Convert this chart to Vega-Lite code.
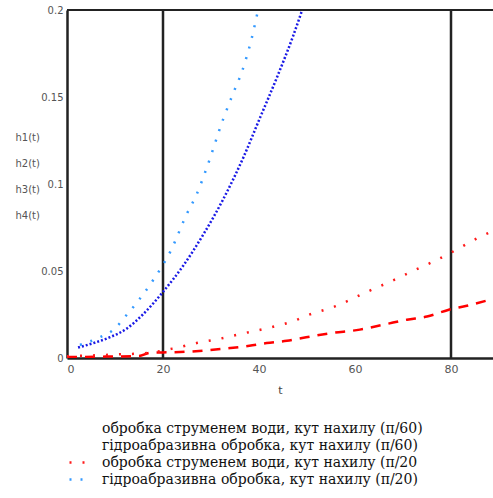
{
  "$schema": "https://vega.github.io/schema/vega-lite/v6.json",
  "autosize": {"type": "none"},
  "width": 426,
  "height": 348,
  "padding": {"left": 67, "top": 10, "right": 0, "bottom": 140},
  "background": "white",
  "config": {"view": {"stroke": null}},
  "datasets": {
    "curves": [
      {"s": "обробка струменем води, кут нахилу (π/60)", "t": 0, "h": 0.0005},
      {"s": "обробка струменем води, кут нахилу (π/60)", "t": 8, "h": 0.0008},
      {"s": "обробка струменем води, кут нахилу (π/60)", "t": 15, "h": 0.0012},
      {"s": "обробка струменем води, кут нахилу (π/60)", "t": 17.3, "h": 0.003},
      {"s": "обробка струменем води, кут нахилу (π/60)", "t": 20, "h": 0.0032},
      {"s": "обробка струменем води, кут нахилу (π/60)", "t": 25, "h": 0.0036},
      {"s": "обробка струменем води, кут нахилу (π/60)", "t": 29.8, "h": 0.0046},
      {"s": "обробка струменем води, кут нахилу (π/60)", "t": 34, "h": 0.0057},
      {"s": "обробка струменем води, кут нахилу (π/60)", "t": 38, "h": 0.007},
      {"s": "обробка струменем води, кут нахилу (π/60)", "t": 41.6, "h": 0.0086},
      {"s": "обробка струменем води, кут нахилу (π/60)", "t": 45.8, "h": 0.0099},
      {"s": "обробка струменем води, кут нахилу (π/60)", "t": 49, "h": 0.0115},
      {"s": "обробка струменем води, кут нахилу (π/60)", "t": 54.8, "h": 0.0142},
      {"s": "обробка струменем води, кут нахилу (π/60)", "t": 61, "h": 0.0163},
      {"s": "обробка струменем води, кут нахилу (π/60)", "t": 66.5, "h": 0.0195},
      {"s": "обробка струменем води, кут нахилу (π/60)", "t": 70.8, "h": 0.022},
      {"s": "обробка струменем води, кут нахилу (π/60)", "t": 75, "h": 0.0238},
      {"s": "обробка струменем води, кут нахилу (π/60)", "t": 79.4, "h": 0.0276},
      {"s": "обробка струменем води, кут нахилу (π/60)", "t": 83.3, "h": 0.0300},
      {"s": "обробка струменем води, кут нахилу (π/60)", "t": 88.75, "h": 0.034},

      {"s": "гідроабразивна обробка, кут нахилу (π/60)", "t": 2.3, "h": 0.006},
      {"s": "гідроабразивна обробка, кут нахилу (π/60)", "t": 6, "h": 0.009},
      {"s": "гідроабразивна обробка, кут нахилу (π/60)", "t": 9, "h": 0.012},
      {"s": "гідроабразивна обробка, кут нахилу (π/60)", "t": 12.5, "h": 0.017},
      {"s": "гідроабразивна обробка, кут нахилу (π/60)", "t": 15.8, "h": 0.025},
      {"s": "гідроабразивна обробка, кут нахилу (π/60)", "t": 20, "h": 0.038},
      {"s": "гідроабразивна обробка, кут нахилу (π/60)", "t": 24.2, "h": 0.053},
      {"s": "гідроабразивна обробка, кут нахилу (π/60)", "t": 28.4, "h": 0.071},
      {"s": "гідроабразивна обробка, кут нахилу (π/60)", "t": 32.5, "h": 0.091},
      {"s": "гідроабразивна обробка, кут нахилу (π/60)", "t": 36.7, "h": 0.115},
      {"s": "гідроабразивна обробка, кут нахилу (π/60)", "t": 40.2, "h": 0.138},
      {"s": "гідроабразивна обробка, кут нахилу (π/60)", "t": 43.7, "h": 0.161},
      {"s": "гідроабразивна обробка, кут нахилу (π/60)", "t": 47.1, "h": 0.185},
      {"s": "гідроабразивна обробка, кут нахилу (π/60)", "t": 49, "h": 0.2},

      {"s": "обробка струменем води, кут нахилу (π/20", "t": 0, "h": 0.001},
      {"s": "обробка струменем води, кут нахилу (π/20", "t": 10, "h": 0.002},
      {"s": "обробка струменем води, кут нахилу (π/20", "t": 17, "h": 0.003},
      {"s": "обробка струменем води, кут нахилу (π/20", "t": 22.5, "h": 0.0057},
      {"s": "обробка струменем води, кут нахилу (π/20", "t": 27, "h": 0.0086},
      {"s": "обробка струменем води, кут нахилу (π/20", "t": 30.8, "h": 0.0105},
      {"s": "обробка струменем води, кут нахилу (π/20", "t": 36.5, "h": 0.014},
      {"s": "обробка струменем води, кут нахилу (π/20", "t": 42.3, "h": 0.0175},
      {"s": "обробка струменем води, кут нахилу (π/20", "t": 47.9, "h": 0.022},
      {"s": "обробка струменем води, кут нахилу (π/20", "t": 49.6, "h": 0.024},
      {"s": "обробка струменем води, кут нахилу (π/20", "t": 56.2, "h": 0.030},
      {"s": "обробка струменем води, кут нахилу (π/20", "t": 61.7, "h": 0.037},
      {"s": "обробка струменем води, кут нахилу (π/20", "t": 69, "h": 0.046},
      {"s": "обробка струменем води, кут нахилу (π/20", "t": 72, "h": 0.050},
      {"s": "обробка струменем води, кут нахилу (π/20", "t": 76, "h": 0.055},
      {"s": "обробка струменем води, кут нахилу (π/20", "t": 81, "h": 0.062},
      {"s": "обробка струменем води, кут нахилу (π/20", "t": 85.6, "h": 0.069},
      {"s": "обробка струменем води, кут нахилу (π/20", "t": 88.75, "h": 0.073},

      {"s": "гідроабразивна обробка, кут нахилу (π/20)", "t": 2.7, "h": 0.0075},
      {"s": "гідроабразивна обробка, кут нахилу (π/20)", "t": 6.9, "h": 0.012},
      {"s": "гідроабразивна обробка, кут нахилу (π/20)", "t": 9.6, "h": 0.016},
      {"s": "гідроабразивна обробка, кут нахилу (π/20)", "t": 12.5, "h": 0.025},
      {"s": "гідроабразивна обробка, кут нахилу (π/20)", "t": 14.6, "h": 0.032},
      {"s": "гідроабразивна обробка, кут нахилу (π/20)", "t": 18, "h": 0.045},
      {"s": "гідроабразивна обробка, кут нахилу (π/20)", "t": 21.5, "h": 0.061},
      {"s": "гідроабразивна обробка, кут нахилу (π/20)", "t": 25, "h": 0.083},
      {"s": "гідроабразивна обробка, кут нахилу (π/20)", "t": 27, "h": 0.094},
      {"s": "гідроабразивна обробка, кут нахилу (π/20)", "t": 29.2, "h": 0.11},
      {"s": "гідроабразивна обробка, кут нахилу (π/20)", "t": 32.5, "h": 0.137},
      {"s": "гідроабразивна обробка, кут нахилу (π/20)", "t": 34.6, "h": 0.152},
      {"s": "гідроабразивна обробка, кут нахилу (π/20)", "t": 36.5, "h": 0.165},
      {"s": "гідроабразивна обробка, кут нахилу (π/20)", "t": 38.5, "h": 0.184},
      {"s": "гідроабразивна обробка, кут нахилу (π/20)", "t": 39.8, "h": 0.2}
    ],
    "markers": [{"t": 20}, {"t": 80}],
    "top": [{"h": 0.2}]
  },
  "layer": [
    {
      "data": {"name": "markers"},
      "mark": {"type": "rule", "color": "#222222", "strokeWidth": 2.5},
      "encoding": {
        "x": {"field": "t", "type": "quantitative", "scale": {"domain": [0, 88.75], "nice": false, "zero": false}}
      }
    },
    {
      "data": {"name": "top"},
      "mark": {"type": "rule", "color": "#222222", "strokeWidth": 2},
      "encoding": {
        "y": {"field": "h", "type": "quantitative"}
      }
    },
    {
      "data": {"name": "curves"},
      "mark": {"type": "line", "strokeWidth": 2.5, "interpolate": "monotone", "clip": true},
      "encoding": {
        "x": {
          "field": "t", "type": "quantitative",
          "scale": {"domain": [0, 88.75], "nice": false, "zero": false},
          "axis": {
            "values": [0, 20, 40, 60, 80],
            "title": "t",
            "grid": false, "ticks": false,
            "domainColor": "#222222", "domainWidth": 2.5,
            "labelFont": "DejaVu Sans", "labelFontSize": 11, "labelColor": "#555555",
            "labelPadding": 5,
            "titleFont": "DejaVu Sans", "titleFontSize": 11, "titleFontWeight": "normal", "titleColor": "#444444",
            "titlePadding": 10
          }
        },
        "y": {
          "field": "h", "type": "quantitative",
          "scale": {"domain": [0, 0.2], "nice": false},
          "axis": {
            "values": [0, 0.05, 0.1, 0.15, 0.2],
            "format": "~g",
            "title": ["h1(t)", "h2(t)", "h3(t)", "h4(t)"],
            "titleAngle": 0, "titleAlign": "left", "titleBaseline": "top",
            "titleX": -52, "titleY": 122, "titleLineHeight": 26,
            "titleFont": "DejaVu Sans", "titleFontSize": 10, "titleFontWeight": "normal", "titleColor": "#555555",
            "grid": false, "ticks": false,
            "domainColor": "#222222", "domainWidth": 2.5,
            "labelFont": "DejaVu Sans", "labelFontSize": 10, "labelColor": "#555555",
            "labelPadding": 4
          }
        },
        "color": {
          "field": "s", "type": "nominal",
          "scale": {
            "domain": [
              "обробка струменем води, кут нахилу (π/60)",
              "гідроабразивна обробка, кут нахилу (π/60)",
              "обробка струменем води, кут нахилу (π/20",
              "гідроабразивна обробка, кут нахилу (π/20)"
            ],
            "range": ["#ff0000", "#1a1ae6", "#ff1a1a", "#3399ff"]
          },
          "legend": {
            "title": null,
            "orient": "none",
            "legendX": 1,
            "legendY": 409,
            "symbolType": "stroke",
            "symbolSize": 256,
            "symbolStrokeWidth": 2.5,
            "labelFont": "DejaVu Serif",
            "labelFontSize": 14,
            "labelColor": "#111111",
            "labelOffset": 15,
            "labelLimit": 500,
            "rowPadding": 0,
            "padding": 0,
            "encode": {"symbols": {"update": {"opacity": {"signal": "datum.index < 2 ? 0 : 1"}}}}
          }
        },
        "strokeDash": {
          "field": "s", "type": "nominal",
          "scale": {
            "domain": [
              "обробка струменем води, кут нахилу (π/60)",
              "гідроабразивна обробка, кут нахилу (π/60)",
              "обробка струменем води, кут нахилу (π/20",
              "гідроабразивна обробка, кут нахилу (π/20)"
            ],
            "range": [[10, 8], [2, 2], [2, 11], [2, 9]]
          },
          "legend": null
        }
      }
    }
  ]
}
